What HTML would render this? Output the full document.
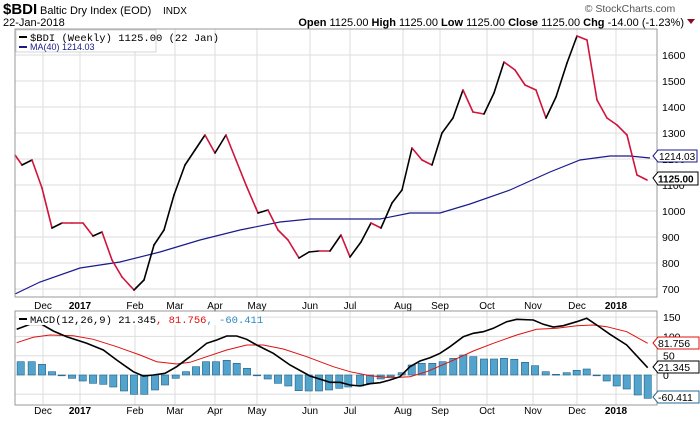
<!DOCTYPE html>
<html><head><meta charset="utf-8"><style>
body{margin:0;background:#fff;width:700px;height:421px;overflow:hidden;font-family:"Liberation Sans",sans-serif}
svg{display:block}
</style></head><body>
<svg id="s" width="700" height="421" xmlns="http://www.w3.org/2000/svg" font-family="Liberation Sans, sans-serif">
<text x="3" y="14" font-size="15" font-weight="bold">$BDI</text>
<text x="40" y="14" font-size="11">Baltic Dry Index (EOD)</text>
<text x="163" y="14" font-size="10">INDX</text>
<text x="3" y="26" font-size="11">22-Jan-2018</text>
<text x="630" y="12" font-size="10.5" fill="#555" text-anchor="middle">© StockCharts.com</text>
<text x="684" y="26" font-size="11" text-anchor="end"><tspan font-weight="bold">Open</tspan> 1125.00 <tspan font-weight="bold">High</tspan> 1125.00 <tspan font-weight="bold">Low</tspan> 1125.00 <tspan font-weight="bold">Close</tspan> 1125.00 <tspan font-weight="bold">Chg</tspan> -14.00 (-1.23%)</text>
<path d="M687,19 L695,19 L691,24Z" fill="#8b0a2a"/>
<g id="g"></g>
</svg>
<script>
const g=document.getElementById('g');let h='';
const months=[[43,'Dec'],[80,'2017',1],[135,'Feb'],[175,'Mar'],[215,'Apr'],[257,'May'],[310,'Jun'],[350,'Jul'],[403,'Aug'],[440,'Sep'],[487,'Oct'],[533,'Nov'],[577,'Dec'],[616,'2018',1]];
for(let v=700;v<=1600;v+=100){const y=289-(v-700)*0.26;h+=`<line x1="15" x2="657" y1="${y}" y2="${y}" stroke="#ddd"/><text x="662" y="${y+4}" font-size="10.5">${v}</text>`;}
months.forEach(m=>{h+=`<line x1="${m[0]}" x2="${m[0]}" y1="29" y2="297" stroke="#ddd"/><line x1="${m[0]}" x2="${m[0]}" y1="311" y2="405" stroke="#ddd"/>`;
h+=`<text x="${m[0]}" y="309" font-size="10" text-anchor="middle" ${m[2]?'font-weight="bold"':''}>${m[1]}</text><text x="${m[0]}" y="414" font-size="10" text-anchor="middle" ${m[2]?'font-weight="bold"':''}>${m[1]}</text>`;});
const yv=v=>375-v*0.386;
[150,100,50,0,-50].forEach(v=>{const y=yv(v);h+=`<line x1="15" x2="657" y1="${y}" y2="${y}" stroke="#ddd"/><text x="663" y="${y+4}" font-size="10.5">${v}</text>`;});
const ma=[[15,294],[40,282],[80,268],[120,262],[160,252],[200,240],[240,230],[280,222],[310,219],[380,219],[410,213],[440,213],[470,204],[510,190],[550,172],[580,160],[610,156],[630,156],[650,158]];
h+=`<polyline points="${ma.join(' ')}" fill="none" stroke="#1a1a8c" stroke-width="1.2"/>`;
const p=[[15,155],[22,165],[32,160],[42,188],[52,228],[62,223],[72,223],[83,223],[93,236],[102,232],[112,260],[122,277],[134,290],[144,280],[154,245],[164,230],[174,195],[185,165],[195,150],[205,135],[215,153],[226,135],[236,160],[246,185],[258,213],[268,210],[278,230],[288,240],[299,258],[309,252],[319,251],[330,251],[341,235],[350,257],[361,242],[371,223],[381,228],[392,203],[402,190],[412,148],[422,160],[432,165],[442,133],[453,118],[463,90],[473,112],[484,114],[494,93],[504,62],[515,70],[525,85],[536,90],[546,118],[556,97],[567,63],[577,36],[587,40],[597,100],[607,118],[617,125],[627,135],[637,175],[647,180]];
for(let i=1;i<p.length;i++){const c=p[i][1]<p[i-1][1]?'#000':'#d0143c';h+=`<line x1="${p[i-1][0]}" y1="${p[i-1][1]}" x2="${p[i][0]}" y2="${p[i][1]}" stroke="${c}" stroke-width="1.6" stroke-linecap="round"/>`;}
h+=`<rect x="15" y="29" width="642" height="268" fill="none" stroke="#999"/>`;
h+=`<rect x="16" y="30" width="140" height="22" fill="#fff" stroke="#aaa" stroke-width="0.5"/>`;
h+=`<line x1="19" x2="27" y1="37" y2="37" stroke="#000" stroke-width="2"/><text x="30" y="41" font-size="10.5" font-family="Liberation Mono, monospace">$BDI (Weekly) 1125.00 (22 Jan)</text>`;
h+=`<line x1="19" x2="27" y1="47" y2="47" stroke="#1a1a8c" stroke-width="2"/><text x="30" y="50" font-size="9" fill="#1a1a8c">MA(40) 1214.03</text>`;
h+=`<path d="M653,156 L658,150 L697,150 L697,162 L658,162Z" fill="#fff" stroke="#1a1a8c"/><text x="659" y="160" font-size="10">1214.03</text>`;
h+=`<path d="M653,178 L658,172 L698,172 L698,185 L658,185Z" fill="#fff" stroke="#000"/><text x="658" y="182.5" font-size="10" font-weight="bold">1125.00</text>`;
// MACD
const L=[[62,170],[95,170],[126,178],[156,200],[185,211],[216,220],[248,228],[279,235],[310,238],[340,246],[372,258],[402,268],[433,268],[465,255],[495,240],[527,220],[558,200],[588,185],[618,170],[648,170],[680,166],[710,175],[741,190],[771,212],[803,222],[834,235],[865,243],[896,257],[926,258],[957,258],[987,255],[1018,250],[1045,246]];
const R=[[30,243],[60,235],[92,222],[122,215],[155,203],[185,180],[215,175],[247,175],[278,170],[310,160],[340,150],[370,155],[402,162],[432,162],[462,160],[493,163],[525,172],[555,182],[587,200],[618,208],[650,203],[680,196],[710,192],[740,211],[770,228],[800,243],[830,252],[863,270],[893,280]];
const bars=L.map(q=>[q[0]/3,305+q[1]/3]).concat(R.map(q=>[350+q[0]/3,305+q[1]/3]));
bars.forEach(b=>{const t=Math.min(b[1],375),hh=Math.max(Math.abs(b[1]-375),0.8);h+=`<rect x="${(b[0]-3.6).toFixed(1)}" y="${t.toFixed(1)}" width="7.2" height="${hh.toFixed(1)}" fill="#52a4cc" stroke="#1f5f88" stroke-width="0.6"/>`;});
const cv=(a,o)=>a.map(q=>(o+q[0]/3).toFixed(1)+','+(305+q[1]/3).toFixed(1)).join(' ');
const sigL=[[50,113],[100,97],[150,90],[220,92],[280,103],[350,125],[420,150],[470,170],[530,177],[570,172],[620,155],[680,135],[740,120],[790,120],[850,132],[920,155],[1000,185],[1050,200]];
const sigR=[[60,212],[120,218],[180,215],[230,200],[300,170],[370,138],[430,115],[500,90],[560,73],[620,70],[680,62],[730,60],[770,65],[830,80],[893,115]];
const macL=[[50,73],[90,58],[125,58],[160,78],[200,95],[260,115],[310,135],[350,165],[400,200],[430,213],[460,210],[495,205],[530,185],[570,155],[620,115],[650,105],[680,93],[710,93],[740,103],[770,120],[820,145],[870,180],[930,213],[990,232],[1020,232],[1050,240]];
const macR=[[30,243],[60,236],[90,233],[120,225],[150,215],[180,185],[210,168],[240,158],[270,145],[300,125],[340,95],[370,85],[400,80],[430,70],[470,50],[500,43],[550,45],[580,58],[610,66],[640,62],[680,50],[710,40],[740,60],[780,88],[830,120],[893,188]];
h+=`<polyline points="${cv(sigL,0)} ${cv(sigR,350)}" fill="none" stroke="#e01010" stroke-width="1"/>`;
h+=`<polyline points="${cv(macL,0)} ${cv(macR,350)}" fill="none" stroke="#000" stroke-width="1.6"/>`;
h+=`<rect x="15" y="311" width="642" height="94" fill="none" stroke="#999"/>`;
h+=`<rect x="17" y="312" width="240" height="13" fill="#fff"/>`;
h+=`<line x1="19" x2="27" y1="319" y2="319" stroke="#000" stroke-width="2"/><text x="30" y="323" font-size="10.5" font-family="Liberation Mono, monospace">MACD(12,26,9) 21.345<tspan fill="#e01010">, 81.756</tspan><tspan fill="#2a8ac0">, -60.411</tspan></text>`;
[[343,'81.756','#e01010'],[367,'21.345','#000'],[397,'-60.411','#2a6a90']].forEach(a=>{const y=a[0];h+=`<path d="M653,${y} L658,${y-6} L699,${y-6} L699,${y+6} L658,${y+6}Z" fill="#fff" stroke="${a[2]}"/><text x="658" y="${y+4}" font-size="10.5">${a[1]}</text>`;});
g.innerHTML=h;
</script>
</body></html>
